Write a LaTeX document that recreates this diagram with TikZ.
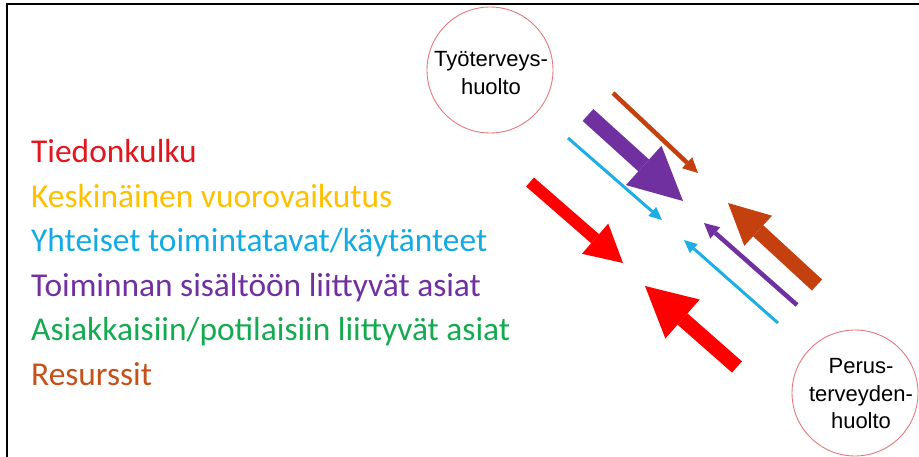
\documentclass[tikz,border=0pt]{standalone}
\usepackage{fontspec}
\setmainfont{Carlito}
\newfontfamily\circlefont{Liberation Sans}
\usetikzlibrary{arrows.meta}

% palette
\definecolor{flowred}{HTML}{FF0000}
\definecolor{flowpurple}{HTML}{7030A0}
\definecolor{flowbrown}{HTML}{C4410F}
\definecolor{flowblue}{HTML}{1DAEE6}
\definecolor{txtred}{HTML}{E3161E}
\definecolor{txtyellow}{HTML}{FFC000}
\definecolor{txtblue}{HTML}{14AAE2}
\definecolor{txtpurple}{HTML}{7030A0}
\definecolor{txtgreen}{HTML}{14AA4F}
\definecolor{txtbrown}{HTML}{C5501A}
\definecolor{ringred}{HTML}{E8787C}

\begin{document}
\begin{tikzpicture}[x=1pt,y=-1pt,
  legend/.style={anchor=base west,inner sep=0pt,font=\fontsize{33.4}{40}\selectfont},
  unit/.style={circle,draw=ringred,line width=0.9pt,fill=white,minimum size=126pt,inner sep=0pt},
  unitline/.style={anchor=base,inner sep=0pt,font=\circlefont\fontsize{22}{26}\selectfont},
  blockarrow/.style n args={3}{line width=#1,line cap=butt,
    -{Triangle[length=#2,width=#3,line width=0pt]}},
]
\useasboundingbox (0,0) rectangle (919,457);

% frame edges
\draw[line width=2.4pt] (7,458) -- (7,4) -- (920,4);

% the two organisations
\node[unit] (tth) at (490,70) {};
\node[unitline] (tth1) at (491,67) {Työterveys-};
\node[unitline] (tth2) at (491,95) {huolto};

\node[unit] (pth) at (855,393) {};
\node[unitline] (pth1) at (861,373) {Perus-};
\node[unitline] (pth2) at (861,401) {terveyden-};
\node[unitline] (pth3) at (861,428) {huolto};

% legend
\node[legend,text=txtred]    (l1) at (31,163)   {Tiedonkulku};
\node[legend,text=txtyellow] (l2) at (31,207.4) {Keskinäinen vuorovaikutus};
\node[legend,text=txtblue]   (l3) at (31,251.8) {Yhteiset toimintatavat/käytänteet};
\node[legend,text=txtpurple] (l4) at (31,296.2) {Toiminnan sisältöön liittyvät asiat};
\node[legend,text=txtgreen]  (l5) at (31,340.6) {Asiakkaisiin/potilaisiin liittyvät asiat};
\node[legend,text=txtbrown]  (l6) at (31,385)   {Resurssit};

% flows from occupational health care
\coordinate (a1s) at (613,93);  \coordinate (a1e) at (698,173);
\coordinate (a2s) at (588,115); \coordinate (a2e) at (683,201);
\coordinate (a3s) at (568,138); \coordinate (a3e) at (662,220);
\coordinate (a4s) at (530,182); \coordinate (a4e) at (623,263);
\draw[flowbrown,blockarrow={4.5pt}{15pt}{15pt}] (a1s) -- (a1e);
\draw[flowpurple,blockarrow={16pt}{53pt}{53pt}] (a2s) -- (a2e);
\draw[flowblue,blockarrow={3pt}{13pt}{12pt}] (a3s) -- (a3e);
\draw[flowred,blockarrow={12pt}{37pt}{40pt}] (a4s) -- (a4e);

% flows from primary health care
\coordinate (b1s) at (817,285); \coordinate (b1e) at (728,203);
\coordinate (b2s) at (797,305); \coordinate (b2e) at (704,223);
\coordinate (b3s) at (778,323); \coordinate (b3e) at (684,240);
\coordinate (b4s) at (737,367); \coordinate (b4e) at (645,286);
\draw[flowbrown,blockarrow={15pt}{41pt}{41pt}] (b1s) -- (b1e);
\draw[flowpurple,blockarrow={4.5pt}{15pt}{15pt}] (b2s) -- (b2e);
\draw[flowblue,blockarrow={3pt}{13pt}{12pt}] (b3s) -- (b3e);
\draw[flowred,blockarrow={15pt}{50pt}{52pt}] (b4s) -- (b4e);
\end{tikzpicture}
\end{document}
